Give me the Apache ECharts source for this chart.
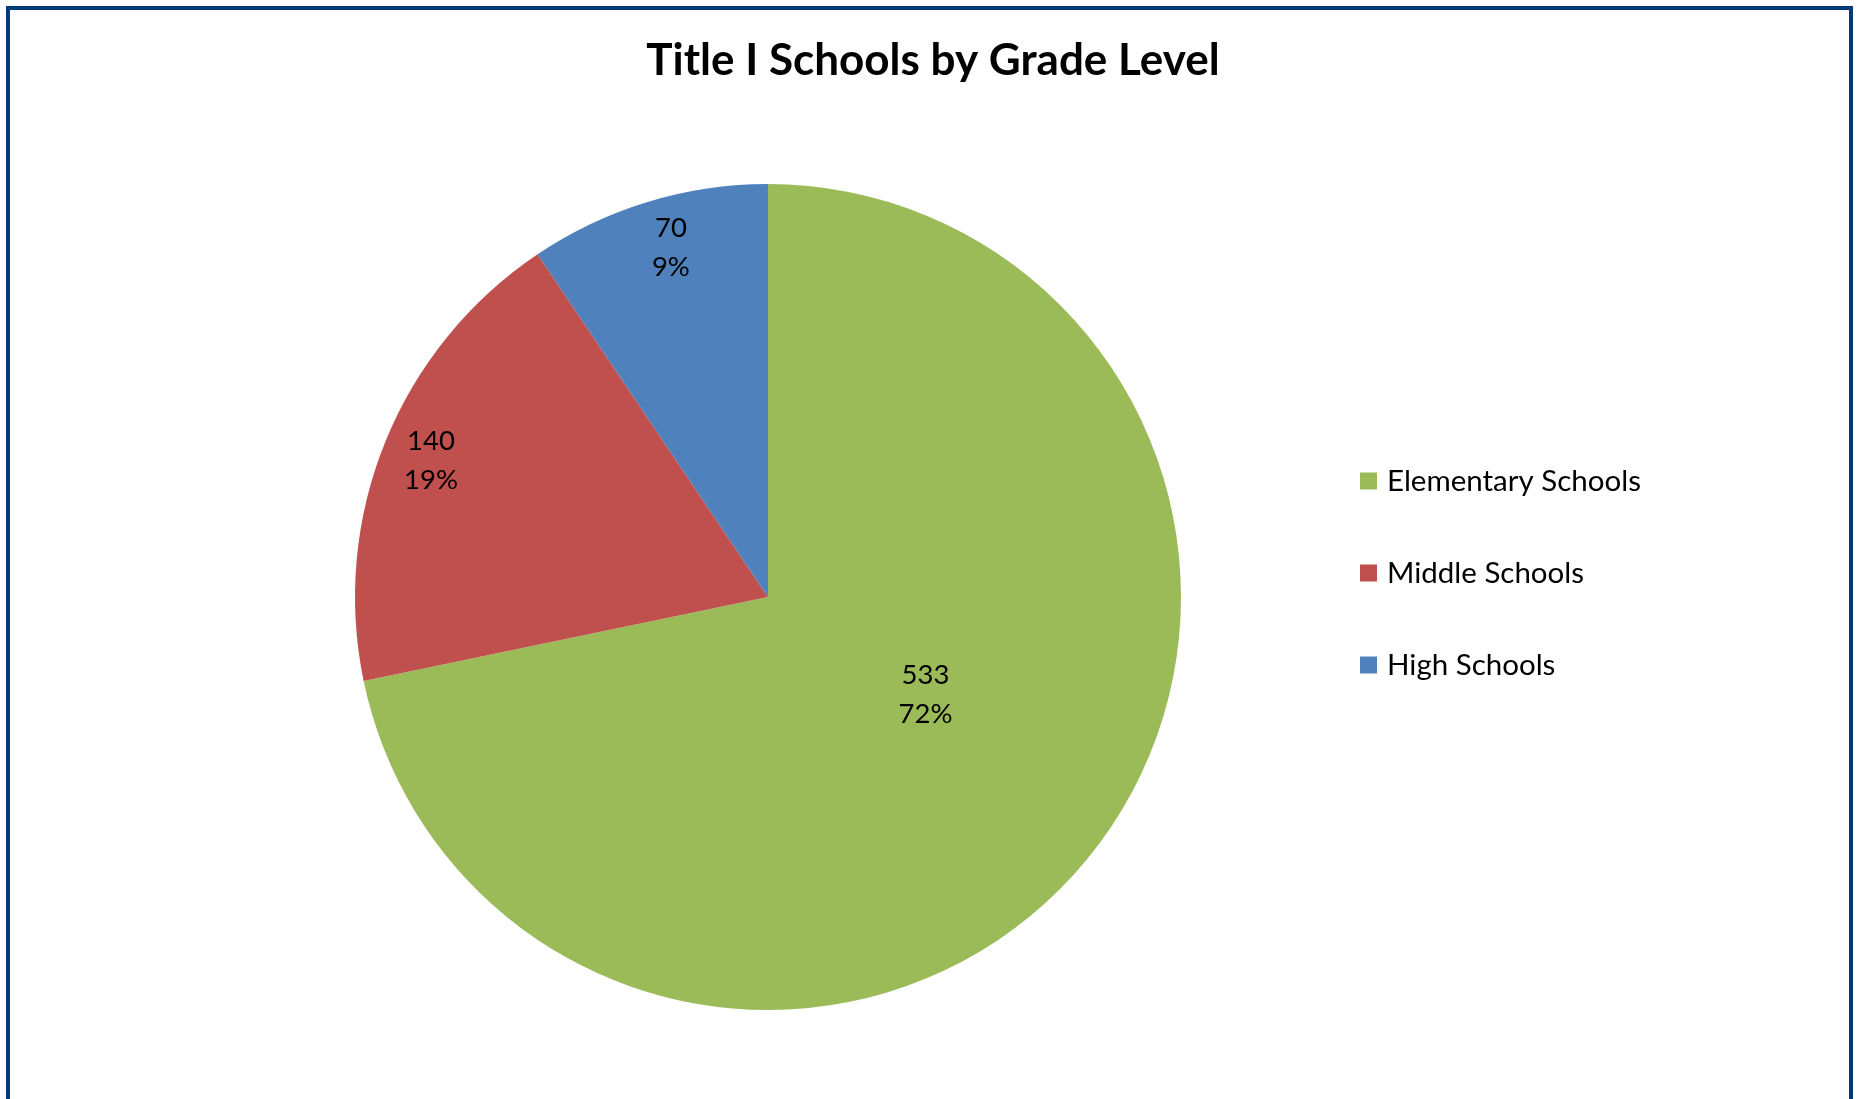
<!DOCTYPE html>
<html>
<head>
<meta charset="utf-8">
<script src="https://cdn.jsdelivr.net/npm/echarts@6/dist/echarts.min.js"></script>
<style>
html,body{margin:0;padding:0;background:#fff;}
#chart{width:1857px;height:1099px;}
</style>
</head>
<body>
<div id="chart"></div>
<script>
const categories = ["Elementary Schools", "Middle Schools", "High Schools"];
const values = [533, 140, 70];
const colors = ["#9BBB59", "#C0504D", "#4F81BD"];
const titleText = "Title I Schools by Grade Level";
const labelShift = [[-5, -35], [-143, -57], [-36, -149]];

const chart = echarts.init(document.getElementById('chart'));
chart.setOption({
  backgroundColor: '#ffffff',
  animation: false,
  title: {
    text: titleText,
    left: 928, top: 34, textAlign: 'center',
    textStyle: {fontFamily: 'Lato', fontWeight: 'bold', fontSize: 44, color: '#000'}
  },
  legend: {
    orient: 'vertical',
    left: 1355, top: 461,
    itemWidth: 17, itemHeight: 17, itemGap: 62,
    icon: 'rect',
    textStyle: {fontFamily: 'Lato', fontSize: 29.5, color: '#000', padding: [0,0,0,5]},
    data: categories
  },
  graphic: [{
    type: 'rect',
    shape: {x: 8, y: 8, width: 1843, height: 1200},
    style: {fill: 'none', stroke: '#003b79', lineWidth: 4},
    silent: true
  }],
  series: [{
    type: 'pie',
    center: [768, 597],
    radius: [0, 413],
    startAngle: 90,
    clockwise: true,
    percentPrecision: 0,
    label: {
      show: true, position: 'inside',
      formatter: '{c}\n{d}%',
      fontFamily: 'Lato', fontSize: 27.5, lineHeight: 39, color: '#000'
    },
    labelLine: {show: false},
    labelLayout: function (p) {
      const s = labelShift[p.dataIndex];
      return {dx: s[0], dy: s[1]};
    },
    itemStyle: {borderWidth: 0},
    emphasis: {disabled: true},
    data: categories.map((c, i) => ({name: c, value: values[i], itemStyle: {color: colors[i]}}))
  }]
});
</script>
</body>
</html>
